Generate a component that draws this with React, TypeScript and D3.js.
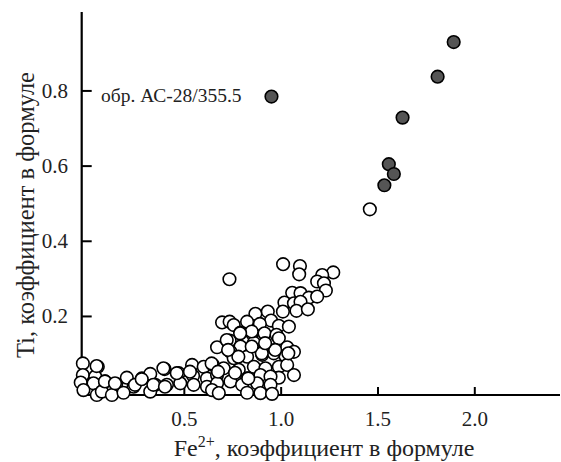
import React from "react";
import * as d3 from "d3";

const openX = [
  1.010, 1.097, 1.093, 0.733, 1.269, 1.212, 1.186, 1.221, 1.231,
  1.057, 1.100, 1.143, 1.186, 1.017, 1.066, 1.100, 1.009, 1.079, 1.138,
  0.695, 0.734, 0.755, 0.867, 0.931, 0.948, 0.988, 0.824, 0.890, 1.040,
  0.790, 0.850, 0.914, 0.976, 0.734, 0.669, 0.790, 0.859, 0.919, 0.988, 1.031, 1.066, 0.738,
  1.022, 0.824, 0.755, 0.902, 0.962,
  -0.024, 0.053, 0.398, 0.540, 0.600, 0.648, 0.703, 0.781, 0.859, 0.919, 0.988, 1.031, 1.066, 0.988,
  -0.024, 0.040, 0.203, 0.281, 0.324, 0.471, 0.545, 0.617, 0.669, 0.738, 0.824, 0.893, 0.945,
  -0.035, 0.031, 0.091, 0.148, 0.238, 0.350, 0.410, 0.479, 0.548, 0.617, 0.669, 0.798, 0.876, 0.945,
  -0.021, 0.048, 0.074, 0.126, 0.186, 0.324, 0.643, 0.678, 0.824, 0.893, 0.953,
  0.047, 0.090, 0.142, 0.245, 0.280, 0.340, 0.392, 0.400, 0.461,
  0.641, 0.674, 0.529, 0.762, 0.830, 0.900, 0.969, 1.037, 0.719, 0.779, 0.848, 0.917, 0.848, 0.788, 0.726,
  1.458,
];
const openY = [
  0.339, 0.334, 0.312, 0.299, 0.317, 0.310, 0.293, 0.288, 0.269,
  0.263, 0.262, 0.250, 0.253, 0.237, 0.235, 0.239, 0.213, 0.215, 0.219,
  0.184, 0.186, 0.177, 0.207, 0.213, 0.189, 0.175, 0.186, 0.180, 0.173,
  0.157, 0.155, 0.155, 0.151, 0.136, 0.118, 0.120, 0.130, 0.124, 0.142, 0.118, 0.106, 0.106,
  0.095, 0.093, 0.089, 0.098, 0.102,
  0.075, 0.066, 0.060, 0.071, 0.066, 0.071, 0.062, 0.058, 0.066, 0.062, 0.066, 0.071, 0.044, 0.037,
  0.044, 0.040, 0.037, 0.035, 0.047, 0.049, 0.042, 0.035, 0.044, 0.027, 0.035, 0.044, 0.040,
  0.024, 0.022, 0.027, 0.020, 0.013, 0.018, 0.018, 0.022, 0.018, 0.013, 0.022, 0.018, 0.022, 0.018,
  0.004, -0.009, 0.000, -0.009, -0.003, 0.000, 0.004, -0.004, -0.003, -0.004, -0.006,
  0.068, 0.027, 0.022, 0.018, 0.033, 0.018, 0.062, 0.013, 0.049,
  0.075, 0.053, 0.053, 0.050, 0.035, 0.102, 0.111, 0.102, 0.137, 0.093, 0.120, 0.129, 0.160, 0.155, 0.111,
  0.485,
];
const filledX = [0.95, 1.891, 1.808, 1.627, 1.556, 1.582, 1.533];
const filledY = [0.785, 0.930, 0.838, 0.729, 0.605, 0.579, 0.549];

const xTicks = [0.5, 1.0, 1.5, 2.0];
const yTicks = [0.2, 0.4, 0.6, 0.8];
const annotation = "обр. АС-28/355.5";
const xTitleMain = "Fe";
const xTitleSup = "2+";
const xTitleRest = ", коэффициент в формуле";
const yTitle = "Ti, коэффициент в формуле";

const W = 561;
const H = 462;
const FAM = "Liberation Serif";

export default function App() {
  const x = d3.scaleLinear().domain([-0.03, 2.44]).range([81.7, 560]);
  const y = d3.scaleLinear().domain([-0.009, 1.01]).range([395, 12]);
  const r = 6.3;
  return (
    <svg
      width={W}
      height={H}
      fontFamily={FAM}
      style={{ position: "absolute", left: 0, top: 0, background: "#fff", fontFamily: FAM }}
    >
      <line x1={x(-0.03)} x2={x(-0.03)} y1={y(1.01)} y2={y(-0.009)} stroke="#000" strokeWidth={2.2} />
      <line x1={x(-0.03) - 1} x2={x(2.44)} y1={y(-0.009)} y2={y(-0.009)} stroke="#000" strokeWidth={2.2} />
      {yTicks.map((t) => (
        <g key={"yt" + t}>
          <line x1={x(-0.03)} x2={x(-0.03) + 10} y1={y(t)} y2={y(t)} stroke="#000" strokeWidth={2} />
          <text x={68} y={y(t) + 7} textAnchor="end" fontSize={21} fill="#222">
            {t.toFixed(1)}
          </text>
        </g>
      ))}
      {xTicks.map((t) => (
        <g key={"xt" + t}>
          <line x1={x(t)} x2={x(t)} y1={y(-0.009)} y2={y(-0.009) - 8} stroke="#000" strokeWidth={2} />
          <text x={x(t)} y={426} textAnchor="middle" fontSize={21} fill="#222">
            {t.toFixed(1)}
          </text>
        </g>
      ))}
      {openX.map((v, i) => (
        <circle key={"o" + i} cx={x(v)} cy={y(openY[i])} r={r} fill="#fff" stroke="#000" strokeWidth={1.6} />
      ))}
      {filledX.map((v, i) => (
        <circle key={"f" + i} cx={x(v)} cy={y(filledY[i])} r={r} fill="#555" stroke="#000" strokeWidth={1.6} />
      ))}
      <text x={101} y={102} fontSize={19.5} fill="#222">
        {annotation}
      </text>
      <text x={324} y={456} textAnchor="middle" fontSize={24} fill="#222">
        {xTitleMain}
        <tspan dy={-9} fontSize={16}>{xTitleSup}</tspan>
        <tspan dy={9}>{xTitleRest}</tspan>
      </text>
      <text transform={`translate(34, 215) rotate(-90)`} textAnchor="middle" fontSize={24.5} fill="#222">
        {yTitle}
      </text>
    </svg>
  );
}
